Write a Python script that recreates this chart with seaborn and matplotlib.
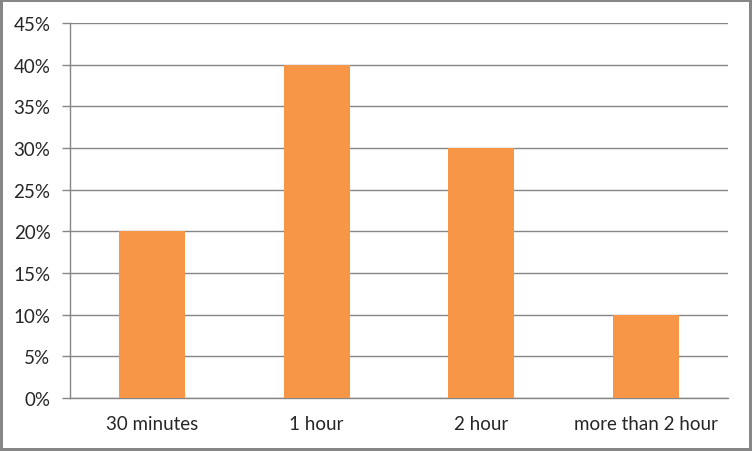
import numpy as np
import pandas as pd
import seaborn as sns
import matplotlib.pyplot as plt
from matplotlib.ticker import PercentFormatter

# chart values
categories = ['30 minutes', '1 hour', '2 hour', 'more than 2 hour']
shares = [20, 40, 30, 10]
y_ticks = [0, 5, 10, 15, 20, 25, 30, 35, 40, 45]


def main():
    data = pd.DataFrame({'duration': categories, 'share': shares})

    sns.set_style('white')
    plt.rcParams['font.family'] = ['Lato', 'DejaVu Sans']

    fig = plt.figure(figsize=(7.52, 4.52), dpi=100)
    fig.patch.set_edgecolor('#868686')
    fig.patch.set_linewidth(3)
    ax = fig.add_axes([0.093, 0.117, 0.875, 0.83])

    sns.barplot(data=data, x='duration', y='share', color='#F79646',
                saturation=1, width=0.4, linewidth=0, ax=ax, zorder=3)

    ax.set_ylim(0, 45)
    ax.set_xlim(-0.5, 3.5)
    ax.set_yticks(y_ticks)
    ax.yaxis.set_major_formatter(PercentFormatter(decimals=0))
    ax.grid(axis='y', color='#868686', linewidth=1, zorder=0)
    ax.set_xlabel('')
    ax.set_ylabel('')

    for side in ['top', 'right']:
        ax.spines[side].set_visible(False)
    for side in ['left', 'bottom']:
        ax.spines[side].set_color('#868686')
        ax.spines[side].set_linewidth(1)

    # ticks between categories on x, outward ticks on y
    ax.set_xticks(np.arange(-0.5, 4, 1), minor=True)
    ax.tick_params(axis='x', which='major', length=0, pad=12, labelsize=13.5)
    ax.tick_params(axis='x', which='minor', length=6, color='#868686', width=1)
    ax.tick_params(axis='y', length=6, color='#868686', width=1, pad=8,
                   labelsize=13.5, left=True)

    fig.savefig('out.png', dpi=100, edgecolor=fig.get_edgecolor())


if __name__ == "__main__":
    main()
